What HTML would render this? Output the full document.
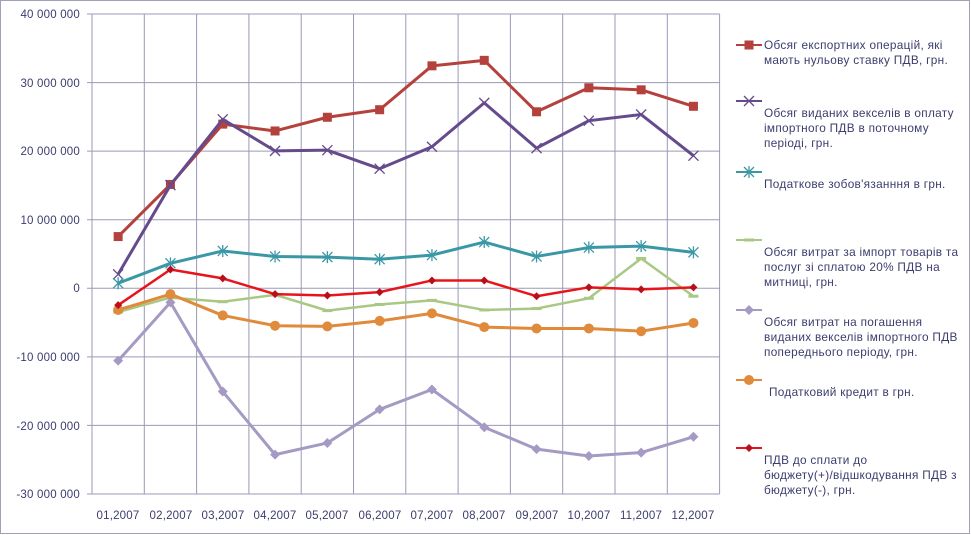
<!DOCTYPE html>
<html><head><meta charset="utf-8"><style>
body{margin:0;background:#fff}
svg{display:block;font-family:"Liberation Sans","DejaVu Sans",sans-serif}
.t{font-size:11.5px;fill:#3c3c6e;letter-spacing:0.2px}
.l{font-size:11.8px;fill:#3c3c6e;letter-spacing:0.3px}
</style></head><body>
<svg id="s" width="971" height="535" viewBox="0 0 971 535">
<rect x="0.5" y="0.5" width="969" height="533" fill="#fff" stroke="#a0a0b8"/>
<g id="grid" stroke="#9a9ab8" stroke-width="1"></g>
<g class="t" text-anchor="end">
<text x="80" y="18">40 000 000</text>
<text x="80" y="87">30 000 000</text>
<text x="80" y="155">20 000 000</text>
<text x="80" y="224">10 000 000</text>
<text x="80" y="292">0</text>
<text x="80" y="361">-10 000 000</text>
<text x="80" y="430">-20 000 000</text>
<text x="80" y="498">-30 000 000</text>
</g>
<g class="t" text-anchor="middle">
<text x="118" y="519">01,2007</text><text x="171" y="519">02,2007</text><text x="223" y="519">03,2007</text><text x="275" y="519">04,2007</text><text x="327" y="519">05,2007</text><text x="380" y="519">06,2007</text><text x="432" y="519">07,2007</text><text x="484" y="519">08,2007</text><text x="537" y="519">09,2007</text><text x="589" y="519">10,2007</text><text x="641" y="519">11,2007</text><text x="693" y="519">12,2007</text>
</g>
<g id="series"></g>
<g id="leg"></g>
<g class="l">
<text x="764" y="49">Обсяг експортних операцій, які</text>
<text x="764" y="64">мають нульову ставку ПДВ, грн.</text>
<text x="764" y="117">Обсяг виданих векселів в оплату</text>
<text x="764" y="132">імпортного ПДВ в поточному</text>
<text x="764" y="147">періоді, грн.</text>
<text x="764" y="188">Податкове зобов'язанння в грн.</text>
<text x="764" y="256">Обсяг витрат за імпорт товарів та</text>
<text x="764" y="271">послуг зі сплатою 20% ПДВ на</text>
<text x="764" y="286">митниці, грн.</text>
<text x="764" y="326">Обсяг витрат на погашення</text>
<text x="764" y="341">виданих векселів імпортного ПДВ</text>
<text x="764" y="356">попереднього періоду, грн.</text>
<text x="769" y="396">Податковий кредит в грн.</text>
<text x="764" y="464">ПДВ до сплати до</text>
<text x="764" y="479">бюджету(+)/відшкодування ПДВ з</text>
<text x="764" y="494">бюджету(-), грн.</text>
</g>
</svg>
<script>
var NS="http://www.w3.org/2000/svg";
function el(p,n,a){var e=document.createElementNS(NS,n);for(var k in a)e.setAttribute(k,a[k]);p.appendChild(e);return e;}
var g=document.getElementById('grid'),L=92,R=719.6,T=14,B=494;
for(var i=0;i<8;i++){var y=T+i*(B-T)/7;el(g,'line',{x1:L-5,x2:R,y1:y,y2:y});}
for(var i=0;i<=12;i++){var x=L+i*(R-L)/12;el(g,'line',{x1:x,x2:x,y1:T,y2:B});}
function X(i){return L+(i+0.5)*(R-L)/12}
function Y(v){return 288-v*6.857}
var S=[
['#b5413d',3,'sq',[7.5,15.1,23.9,22.9,24.9,26,32.4,33.2,25.7,29.2,28.9,26.5],57],
['#654a8c',3,'x',[2,15,24.6,20,20.1,17.4,20.6,27,20.4,24.4,25.3,19.3],113],
['#3a98a6',3,'star',[0.7,3.6,5.4,4.6,4.5,4.2,4.8,6.7,4.6,5.9,6.1,5.2],184],
['#a8c883',2.5,'dash',[-3.5,-1.4,-2,-1,-3.3,-2.4,-1.8,-3.2,-3,-1.5,4.3,-1.2],252],
['#a59ac3',3,'dia',[-10.6,-2.1,-15.1,-24.3,-22.6,-17.7,-14.8,-20.3,-23.5,-24.5,-24,-21.7],322],
['#e08a3c',3,'circ',[-3.2,-0.9,-4,-5.5,-5.6,-4.8,-3.7,-5.7,-5.9,-5.9,-6.3,-5.1],392],
['#e8141c',2.5,'dia2',[-2.5,2.7,1.4,-0.9,-1.1,-0.6,1.1,1.1,-1.2,0.1,-0.2,0.1],460]];
var sg=document.getElementById('series'),lg=document.getElementById('leg');
function mark(p,t,x,y,c){
 if(t=='sq')el(p,'rect',{x:x-4.5,y:y-4.5,width:9,height:9,fill:c});
 else if(t=='x'){el(p,'path',{d:'M'+(x-5)+' '+(y-5)+'L'+(x+5)+' '+(y+5)+'M'+(x-5)+' '+(y+5)+'L'+(x+5)+' '+(y-5),stroke:c,'stroke-width':1.3,fill:'none'});}
 else if(t=='star'){el(p,'path',{d:'M'+(x-5)+' '+(y-5)+'L'+(x+5)+' '+(y+5)+'M'+(x-5)+' '+(y+5)+'L'+(x+5)+' '+(y-5)+'M'+x+' '+(y-6)+'L'+x+' '+(y+6),stroke:c,'stroke-width':1.3,fill:'none'});}
 else if(t=='dash')el(p,'rect',{x:x-5,y:y-1.5,width:10,height:3,fill:c});
 else if(t=='dia')el(p,'path',{d:'M'+x+' '+(y-5)+'L'+(x+5)+' '+y+'L'+x+' '+(y+5)+'L'+(x-5)+' '+y+'Z',fill:c});
 else if(t=='dia2')el(p,'path',{d:'M'+x+' '+(y-4)+'L'+(x+4)+' '+y+'L'+x+' '+(y+4)+'L'+(x-4)+' '+y+'Z',fill:'#b8101a'});
 else if(t=='circ')el(p,'circle',{cx:x,cy:y,r:5,fill:c});
}
S.forEach(function(s){
 var pts=s[3].map(function(v,i){return X(i)+','+Y(v)}).join(' ');
 el(sg,'polyline',{points:pts,fill:'none',stroke:s[0],'stroke-width':s[1],'stroke-linejoin':'round'});
 s[3].forEach(function(v,i){mark(sg,s[2],X(i),Y(v),s[0]);});
 el(lg,'line',{x1:736,x2:762,y1:s[4]-12,y2:s[4]-12,stroke:s[0],'stroke-width':2});
 mark(lg,s[2],749,s[4]-12,s[0]);
});
</script>
</body></html>
